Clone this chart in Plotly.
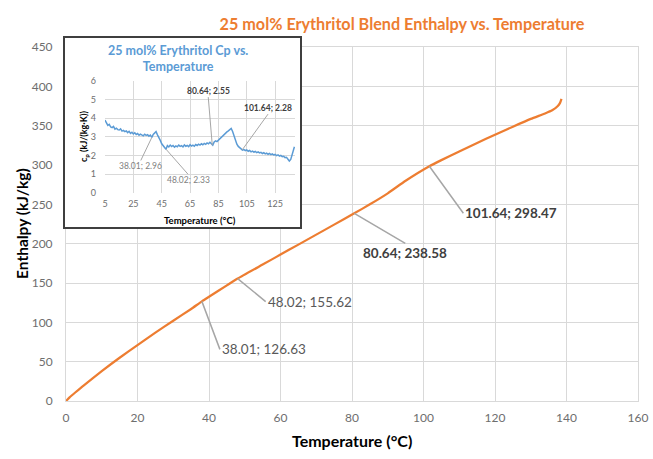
import plotly.graph_objects as go

# ---------------- data ----------------
enth_temp = [0, 1, 2.5, 5, 10, 15, 20, 25, 30, 35, 38.01, 40, 45, 48.02, 55, 60, 65, 70, 75,
             80.64, 85, 90, 95, 101.64, 105, 110, 115, 120, 125, 130, 134, 136, 137.5, 138.2, 138.6]
enth_val = [0, 4.6, 10.5, 20, 38, 55, 71, 87, 102, 117, 126.63, 132.5, 147, 155.62, 173.4, 186.1,
            198.8, 211.5, 224.2, 238.58, 250, 264, 280, 298.47, 306.2, 317.2, 328, 338.5, 348.7,
            358.6, 365.5, 369.5, 374.6, 379, 384]

cp_temp = [5, 6, 7, 8, 9, 10, 11, 12, 13, 14,
           15, 16, 17, 18, 19, 20, 21, 22, 23, 24,
           25, 26, 27, 28, 29, 30, 31, 32, 33, 34,
           35, 36, 37, 38, 39, 40, 41, 42, 43, 44,
           45, 46, 47, 48, 49, 50, 51, 52, 53, 54,
           55, 56, 57, 58, 59, 60, 61, 62, 63, 64,
           65, 66, 67, 68, 69, 70, 71, 72, 73, 74,
           75, 76, 77, 78, 79, 80, 81, 82, 83, 84,
           85, 86, 87, 88, 89, 90, 91, 92, 93, 94,
           95, 96, 97, 98, 99, 100, 101, 102, 103, 104,
           105, 106, 107, 108, 109, 110, 111, 112, 113, 114,
           115, 116, 117, 118, 119, 120, 121, 122, 123, 124,
           125, 126, 127, 128, 129, 130, 131, 132, 133, 134,
           135, 136, 137, 138, 138.6]
cp_val = [3.89, 3.72, 3.61, 3.66, 3.52, 3.49, 3.55, 3.41, 3.46, 3.38,
          3.36, 3.42, 3.30, 3.34, 3.27, 3.31, 3.22, 3.29, 3.18, 3.24,
          3.15, 3.21, 3.12, 3.17, 3.08, 3.14, 3.10, 3.05, 3.13, 3.07,
          3.11, 3.03, 3.09, 2.96, 3.12, 3.18, 3.27, 3.10, 2.98, 2.80,
          2.62, 2.50, 2.44, 2.33, 2.52, 2.45, 2.55, 2.47, 2.53, 2.44,
          2.51, 2.46, 2.55, 2.48, 2.52, 2.45, 2.56, 2.49, 2.53, 2.47,
          2.57, 2.50, 2.55, 2.49, 2.58, 2.53, 2.60, 2.55, 2.62, 2.57,
          2.64, 2.59, 2.67, 2.62, 2.70, 2.60, 2.55, 2.72, 2.78, 2.74,
          2.82, 2.88, 2.95, 3.02, 3.10, 3.18, 3.26, 3.31, 3.40, 3.44,
          3.28, 3.02, 2.78, 2.60, 2.48, 2.40, 2.34, 2.28, 2.31, 2.25,
          2.29, 2.22, 2.26, 2.19, 2.23, 2.17, 2.21, 2.15, 2.19, 2.13,
          2.16, 2.10, 2.14, 2.08, 2.12, 2.06, 2.10, 2.04, 2.08, 2.02,
          2.05, 1.99, 2.03, 1.96, 2.00, 1.93, 1.95, 1.88, 1.90, 1.82,
          1.70, 1.78, 2.05, 2.42, 2.46]

main_x_ticks = [0, 20, 40, 60, 80, 100, 120, 140, 160]
main_y_ticks = [0, 50, 100, 150, 200, 250, 300, 350, 400, 450]
inset_x_ticks = [5, 25, 45, 65, 85, 105, 125]
inset_y_ticks = [0, 1, 2, 3, 4, 5, 6]

label_temp = [38.01, 48.02, 80.64, 101.64]
label_enth = [126.63, 155.62, 238.58, 298.47]
label_cp = [2.96, 2.33, 2.55, 2.28]

# ---------------- styling / layout ----------------
W, H = 653, 459
FONT = "Lato, 'Open Sans', sans-serif"
ORANGE = "#ED7D31"
BLUE = "#5B9BD5"
GRID = "#d9d9d9"
TICK = "#6e6e6e"
LEADER = "#a6a6a6"


def px_x(p):
    return p / W


def px_y(p):
    return (H - p) / H


fig = go.Figure()
fig.add_trace(go.Scatter(x=enth_temp, y=enth_val, mode="lines",
                         line=dict(color=ORANGE, width=2.25, shape="spline", smoothing=0.5),
                         xaxis="x", yaxis="y", hoverinfo="skip", showlegend=False))
# frame of the inset (empty subplot drawn over the main grid)
fig.add_trace(go.Scatter(x=[None], y=[None], xaxis="x2", yaxis="y2",
                         hoverinfo="skip", showlegend=False))
fig.add_trace(go.Scatter(x=cp_temp, y=cp_val, mode="lines",
                         line=dict(color=BLUE, width=1.5),
                         xaxis="x3", yaxis="y3", hoverinfo="skip", showlegend=False))

main_axis = dict(showgrid=True, gridcolor=GRID, gridwidth=1, zeroline=False,
                 showline=True, linecolor=GRID, linewidth=1, mirror=True, ticks="",
                 automargin=False, ticklabeloverflow="allow",
                 tickfont=dict(family=FONT, size=12, color=TICK), fixedrange=True)
inset_axis = dict(showgrid=True, gridcolor=GRID, gridwidth=1, zeroline=False,
                  showline=False, ticks="", automargin=False,
                  tickfont=dict(family=FONT, size=9, color=TICK), fixedrange=True)
frame_axis = dict(showgrid=False, zeroline=False, showticklabels=False, ticks="",
                  showline=True, mirror=True, linecolor="#3f3f3f", linewidth=2,
                  automargin=False, range=[0, 1], fixedrange=True)

annotations = []
# main-chart data labels
main_offsets = [(18, 48, "left", "middle", False),
                (28, 23, "left", "middle", False),
                (51, 30, "center", "top", True),
                (34, 47, "left", "middle", True)]
for t, h, (ax_, ay_, xa, ya, bold) in zip(label_temp, label_enth, main_offsets):
    txt = f"{t}; {h}"
    annotations.append(dict(
        x=t, y=h, xref="x", yref="y", text=f"<b>{txt}</b>" if bold else txt,
        showarrow=True, arrowhead=0, arrowwidth=1.5, arrowcolor=LEADER,
        ax=ax_, ay=ay_, xanchor=xa, yanchor=ya, borderpad=1,
        font=dict(family=FONT, size=13.5, color="#404040" if bold else "#595959")))

# inset data labels
inset_offsets = [(-11, 23, "center", "top", False),
                 (22, 25, "center", "top", False),
                 (-4, -48, "center", "bottom", True),
                 (26, -36, "center", "bottom", True)]
for t, c, (ax_, ay_, xa, ya, bold) in zip(label_temp, label_cp, inset_offsets):
    txt = f"{t}; {c}"
    annotations.append(dict(
        x=t, y=c, xref="x3", yref="y3", text=f"<b>{txt}</b>" if bold else txt,
        showarrow=True, arrowhead=0, arrowwidth=1, arrowcolor=LEADER,
        ax=ax_, ay=ay_, xanchor=xa, yanchor=ya, borderpad=0,
        font=dict(family=FONT, size=8.5, color="#404040" if bold else "#7f7f7f")))

# axis titles
annotations += [
    dict(x=px_x(352), y=px_y(440), xref="paper", yref="paper", showarrow=False,
         text="<b>Temperature (°C)</b>", xanchor="center", yanchor="middle",
         font=dict(family=FONT, size=16, color="#000000")),
    dict(x=px_x(22), y=px_y(224), xref="paper", yref="paper", showarrow=False,
         text="<b>Enthalpy (kJ/kg)</b>", textangle=-90, xanchor="center", yanchor="middle",
         font=dict(family=FONT, size=15.5, color="#000000")),
    dict(x=px_x(178), y=px_y(59), xref="paper", yref="paper", showarrow=False,
         text="<b>25 mol% Erythritol Cp vs.<br>Temperature</b>", xanchor="center",
         yanchor="middle", font=dict(family=FONT, size=12.5, color=BLUE)),
    dict(x=px_x(200), y=px_y(220), xref="paper", yref="paper", showarrow=False,
         text="<b>Temperature (°C)</b>", xanchor="center", yanchor="middle",
         font=dict(family=FONT, size=9.5, color="#000000")),
    dict(x=px_x(84), y=px_y(137), xref="paper", yref="paper", showarrow=False,
         text="<b>c<sub>p</sub> (kJ/(kg·K))</b>", textangle=-90, xanchor="center",
         yanchor="middle", font=dict(family=FONT, size=9, color="#000000")),
]

fig.update_layout(
    width=W, height=H, margin=dict(l=0, r=0, t=0, b=0, autoexpand=False),
    paper_bgcolor="#ffffff", plot_bgcolor="#ffffff", showlegend=False,
    font=dict(family=FONT),
    title=dict(text="<b>25 mol% Erythritol Blend Enthalpy vs. Temperature</b>",
               x=px_x(402), xanchor="center", xref="paper",
               y=px_y(24), yanchor="middle", yref="paper", automargin=False,
               font=dict(family=FONT, size=16.2, color=ORANGE)),
    xaxis=dict(main_axis, domain=[px_x(66), px_x(638)], range=[0, 160],
               tickvals=main_x_ticks, anchor="y", ticklabelstandoff=6),
    yaxis=dict(main_axis, domain=[px_y(401), px_y(47)], range=[0, 450],
               tickvals=main_y_ticks, anchor="x", ticklabelstandoff=10),
    xaxis2=dict(frame_axis, domain=[px_x(65), px_x(300)], anchor="y2"),
    yaxis2=dict(frame_axis, domain=[px_y(227), px_y(38)], anchor="x2"),
    xaxis3=dict(inset_axis, domain=[px_x(105), px_x(295)], range=[5, 139],
                tickvals=inset_x_ticks, anchor="y3", ticklabelstandoff=4),
    yaxis3=dict(inset_axis, domain=[px_y(192.7), px_y(80.7)], range=[0, 6],
                tickvals=inset_y_ticks, anchor="x3", ticklabelstandoff=8),
    annotations=annotations,
)

fig.write_html(
    "out.html",
    config={"displayModeBar": False, "staticPlot": True},
    post_script="document.body.style.margin='0';document.body.style.overflow='hidden';",
)
